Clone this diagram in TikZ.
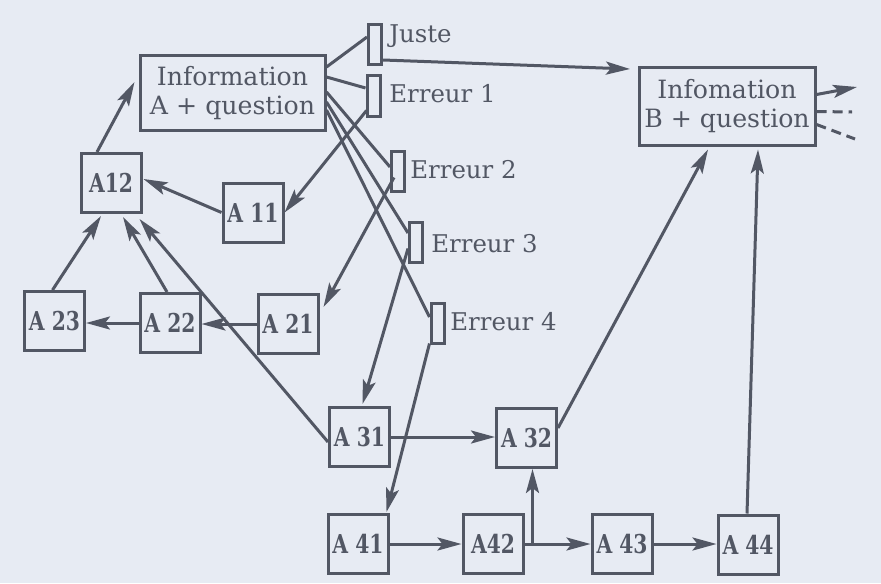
\documentclass[tikz,border=0pt]{standalone}
\usepackage{fontspec}
\setmainfont{DejaVu Serif}
\newfontfamily\afont{DejaVu Serif}[FakeStretch=0.78]
\usetikzlibrary{arrows.meta,calc}
\definecolor{ink}{RGB}{82,87,100}
\definecolor{paper}{RGB}{231,235,243}
\begin{document}
\begin{tikzpicture}[x=0.5pt,y=-0.5pt,
  every node/.style={text=ink},
  line/.style={draw=ink, line width=1.5pt},
  arr/.style={line, -{Stealth[length=12pt,width=6.5pt,inset=2.5pt]}},
  abox/.style={draw=ink, line width=1.5pt, minimum width=30pt, minimum height=29.5pt, inner sep=0pt, font=\afont\bfseries\fontsize{13}{15}\selectfont},
  ibox/.style={draw=ink, line width=1.5pt, inner sep=0pt, align=center, font=\fontsize{12.6}{14.5}\selectfont},
  tab/.style={draw=ink, line width=1.5pt, minimum width=6.5pt, minimum height=20pt, inner sep=0pt},
  lbl/.style={anchor=base west, inner sep=0pt, font=\fontsize{12.2}{13}\selectfont},
]
\fill[paper] (0,0) rectangle (881,583);
\useasboundingbox (0,0) rectangle (881,583);

% main boxes
\node[ibox, minimum width=92.5pt, minimum height=37pt] (infoA) at (232.5,93) {Information\\A + question};
\node[ibox, minimum width=88pt, minimum height=38.5pt] (infoB) at (727,106.5) {Infomation\\B + question};

% answer tabs
\node[tab] (juste) at (375,45) {};
\node[tab] (e1) at (373.5,96) {};
\node[tab] (e2) at (398,171) {};
\node[tab] (e3) at (416,242) {};
\node[tab] (e4) at (437.5,323) {};
\node[lbl] (tj) at (389,43) {Juste};
\node[lbl] (t1) at (389,103) {Erreur 1};
\node[lbl] (t2) at (410,178) {Erreur 2};
\node[lbl] (t3) at (431,252) {Erreur 3};
\node[lbl] (t4) at (450,330) {Erreur 4};

% remediation boxes
\node[abox] (a12) at (111,183) {A12};
\node[abox] (a11) at (253,212.5) {A 11};
\node[abox] (a23) at (54.5,321) {A 23};
\node[abox] (a22) at (170,323) {A 22};
\node[abox] (a21) at (288,324) {A 21};
\node[abox] (a31) at (359.5,437) {A 31};
\node[abox] (a32) at (526.5,438) {A 32};
\node[abox] (a41) at (358,544) {A 41};
\node[abox] (a42) at (493,544) {A42};
\node[abox] (a43) at (622,544) {A 43};
\node[abox] (a44) at (748,544.5) {A 44};

\coordinate (jend) at (630,69);
\coordinate (o1) at (857,87);
\coordinate (o2) at (852,112);
\coordinate (o3) at (855,139);
\coordinate (br) at ($(a42.east)+(8,0)$);

% Info A to tabs
\draw[line] ($(infoA.east)+(0,-26)$) -- ($(juste.west)+(0,-8)$);
\draw[line] ($(infoA.east)+(0,-16)$) -- ($(e1.west)+(0,-8)$);
\draw[line] ($(infoA.east)+(0,-1)$) -- ($(e2.west)+(0,-4)$);
\draw[line] ($(infoA.east)+(0,9)$) -- ($(e3.west)+(0,-9)$);
\draw[line] ($(infoA.east)+(0,17)$) -- ($(e4.west)+(0,-6)$);

% Juste to Info B
\draw[arr] ($(juste.east)+(0,15)$) -- (jend);

% errors to remediation
\draw[arr] ($(e1.south west)+(1,-7)$) -- (a11.east);
\draw[arr] ($(e2.south)+(-4,-15)$) -- ($(a21.north east)+(4,14)$);
\draw[arr] ($(e3.south west)+(0,-15)$) -- ($(a31.north)+(3,-2)$);
\draw[arr] ($(e4.south west)+(0,-1)$) -- ($(a41.north east)+(-3,-1)$);

% left cluster
\draw[arr] (a11.west) -- ($(a12.east)+(1,-4)$);
\draw[arr] ($(a12.north)+(-14,0)$) -- ($(infoA.west)+(-4,-11)$);
\draw[arr] ($(a23.north)+(-2,0)$) -- ($(a12.south)+(-10,2)$);
\draw[arr] ($(a22.north)+(-3,0)$) -- ($(a12.south)+(12,3)$);
\draw[arr] ($(a31.west)+(0,5)$) -- ($(a12.south east)+(-3,5)$);
\draw[arr] (a22.west) -- (a22.west -| a23.east);
\draw[arr] (a21.west) -- (a21.west -| a22.east);

% bottom chain
\draw[arr] (a31.east) -- (a31.east -| a32.west);
\draw[arr] (a41.east) -- (a41.east -| a42.west);
\draw[arr] (a42.east) -- (a43.west);
\draw[arr] (br) -- (br |- a32.south);
\draw[arr] (a43.east) -- (a43.east -| a44.west);

% to Info B
\draw[arr] ($(a44.north)+(-1,0)$) -- ($(infoB.south)+(31,3)$);
\draw[arr] ($(a32.east)+(0,-10)$) -- ($(infoB.south)+(-19,3)$);

% exits of Info B
\draw[arr] ($(infoB.east)+(0,-12)$) -- (o1);
\draw[line, dash pattern=on 5pt off 3pt] ($(infoB.east)+(0,5)$) -- (o2);
\draw[line, dash pattern=on 5pt off 3pt] ($(infoB.east)+(0,18)$) -- (o3);
\end{tikzpicture}
\end{document}
